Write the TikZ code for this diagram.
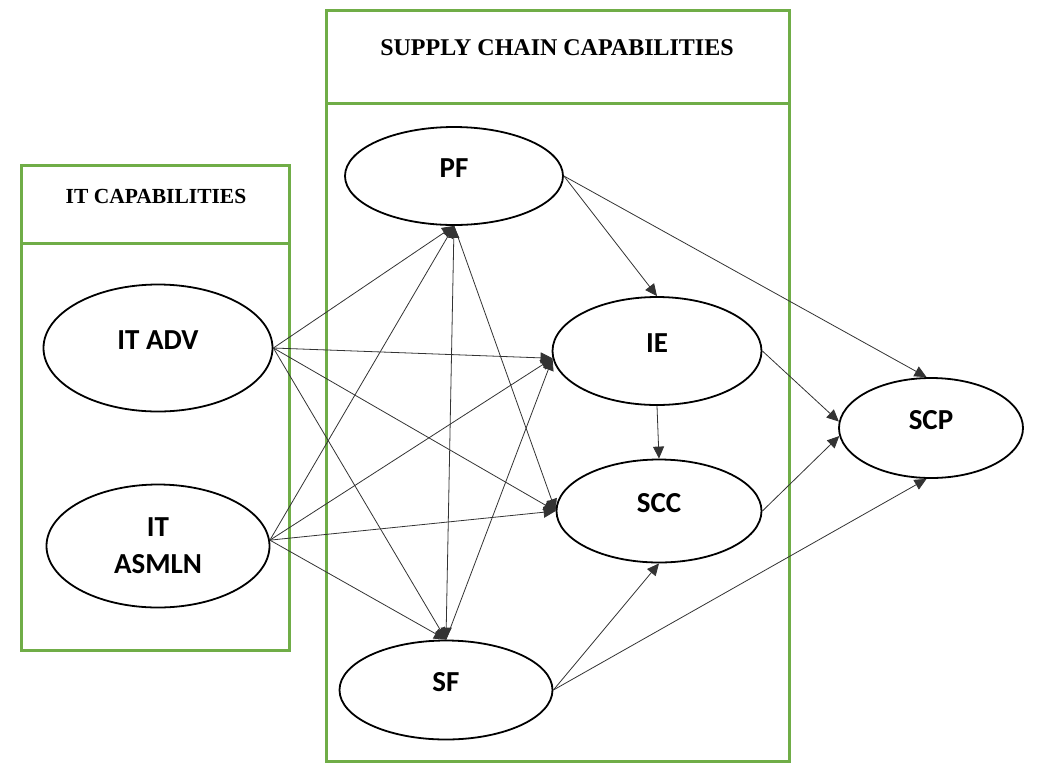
\documentclass[tikz,border=0pt]{standalone}
\usepackage{fontspec}
\setmainfont{Liberation Serif}
\newfontfamily\varfont{Carlito}
\usetikzlibrary{arrows.meta,shapes.geometric}
\definecolor{verde}{RGB}{112,173,71}

\begin{document}
\begin{tikzpicture}[x=1pt, y=-1pt, >={Triangle[length=12pt,width=11pt]},
  var/.style={draw, ellipse, line width=1.8pt, inner sep=0pt, align=center, font=\varfont\fontsize{29}{37}\selectfont\bfseries},
  up/.style={text height=15pt, text depth=13pt},
  marco/.style={draw=verde, line width=3pt},
  titulo/.style={font=\bfseries\fontsize{24}{28}\selectfont},
  flecha/.style={->, line width=0.8pt, draw=black!80}]
\useasboundingbox (0,0) rectangle (1038,764);
% group frames
\draw[marco] (21,165) rectangle (289,650); \draw[marco] (21,243) -- (289,243);
\draw[marco] (326,10) rectangle (789,761); \draw[marco] (326,103) -- (789,103);
\node[titulo, font=\bfseries\fontsize{21.5}{26}\selectfont] (ittit) at (156,196) {IT CAPABILITIES};
\node[titulo] (sctit) at (557,48) {SUPPLY CHAIN CAPABILITIES};
% constructs
\node[var, up, minimum width=229pt, minimum height=127pt] (itadv) at (158,348) {IT ADV};
\node[var, minimum width=223pt, minimum height=123pt] (itasm) at (158,546) {IT\\ASMLN};
\node[var, up, minimum width=218pt, minimum height=98pt] (pf) at (454,176) {PF};
\node[var, up, minimum width=209pt, minimum height=108pt] (ie) at (657,351) {IE};
\node[var, up, minimum width=205pt, minimum height=103pt] (scc) at (659,511) {SCC};
\node[var, up, minimum width=213pt, minimum height=99pt] (sf) at (446,690) {SF};
\node[var, up, minimum width=184pt, minimum height=100pt] (scp) at (931,428) {SCP};
% paths
\draw[flecha] (itadv.east) -- (pf.south); \draw[flecha] (itadv.east) -- (ie.184);
\draw[flecha] (itadv.east) -- (scc.west); \draw[flecha] (itadv.east) -- (sf.north);
\draw[flecha] (itasm.3) -- (pf.south); \draw[flecha] (itasm.3) -- (ie.184);
\draw[flecha] (itasm.3) -- (scc.west); \draw[flecha] (itasm.3) -- (sf.north);
\draw[flecha, <->] (pf.south) -- (sf.north);
\draw[flecha] (pf.south) -- (scc.west); \draw[flecha] (sf.north) -- (ie.184);
\draw[flecha] (pf.east) -- (ie.north); \draw[flecha] (pf.east) -- (scp.95);
\draw[flecha] (ie.south) -- (scc.north);
\draw[flecha] (ie.east) -- (scp.176); \draw[flecha] (scc.east) -- (scp.185);
\draw[flecha] (sf.east) -- (scc.south); \draw[flecha] (sf.east) -- (scp.265);
\end{tikzpicture}
\end{document}
